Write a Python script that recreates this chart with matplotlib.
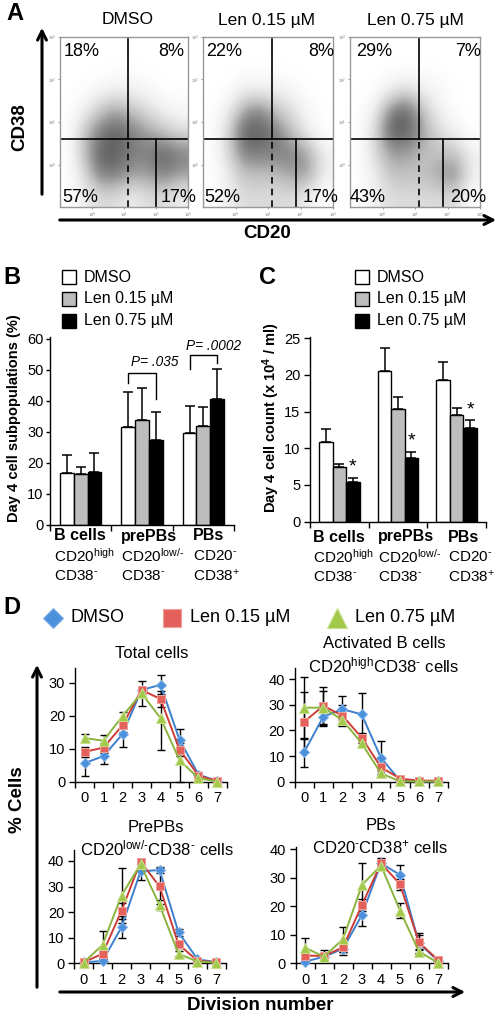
import matplotlib
matplotlib.use('Agg')
import matplotlib.pyplot as plt
import numpy as np
from matplotlib.patches import FancyArrowPatch, Rectangle
from matplotlib.lines import Line2D

plt.rcParams['font.family'] = ['Liberation Sans', 'DejaVu Sans']
plt.rcParams['mathtext.fontset'] = 'custom'
plt.rcParams['mathtext.rm'] = 'Liberation Sans'
plt.rcParams['mathtext.it'] = 'Liberation Sans:italic'
plt.rcParams['mathtext.bf'] = 'Liberation Sans:bold'
plt.rcParams['mathtext.default'] = 'regular'

HY = '\u2010'  # short hyphen for superscripts

# ---------------- data ----------------
conditions = ['DMSO', 'Len 0.15 µM', 'Len 0.75 µM']

# Panel A: quadrant percentages
quad_upper_left = [18, 22, 29]
quad_upper_right = [8, 8, 7]
quad_lower_left = [57, 52, 43]
quad_lower_right = [17, 17, 20]
# gates (log10 units)
gate_cd38 = 0.6
gate_cd20 = 1.12
gate_cd20_high = [2.0, 1.86, 1.86]
# approximate event density (rows: CD38 high->low, cols: CD20 low->high)
density_dmso = [
    [0, 0, 0, 0, 0, 0, 0, 0],
    [0, 0, 0, 0, 0, 0, 0, 0],
    [0, 0, 0.5, 1, 1, 0.5, 0, 0],
    [0, 1, 3, 4, 3, 2, 1, 0.5],
    [0, 3, 5, 6, 5, 4, 3, 2],
    [0, 3, 6, 6, 5, 5, 6, 5],
    [0, 2, 5, 5, 4, 4, 5, 4],
    [0, 1, 2, 2, 1, 2, 2, 1],
]
density_len015 = [
    [0, 0, 0, 0, 0, 0, 0, 0],
    [0, 0, 0, 0, 0, 0, 0, 0],
    [0, 0, 1, 1, 1, 0.5, 0, 0],
    [0, 1, 4, 5, 3, 2, 0.5, 0],
    [0, 2, 6, 6, 5, 3, 1, 0],
    [0, 2, 5, 5, 5, 5, 4, 1],
    [0, 1, 3, 3, 3, 4, 4, 1],
    [0, 1, 2, 2, 2, 2, 1, 0],
]
density_len075 = [
    [0, 0, 0, 0, 0, 0, 0, 0],
    [0, 0, 0, 0, 0, 0, 0, 0],
    [0, 0, 1, 2, 1, 0.5, 0, 0],
    [0, 1, 5, 6, 3, 1, 0, 0],
    [0, 2, 6, 6, 4, 2, 1, 0],
    [0, 2, 4, 4, 3, 3, 3, 1],
    [0, 1, 3, 3, 3, 4, 5, 1],
    [0, 1, 2, 2, 2, 2, 2, 0],
]

# Panels B and C
groups = ['B cells', 'prePBs', 'PBs']
group_markers1 = ['CD20$^{high}$', 'CD20$^{low/' + HY + '}$', 'CD20$^{' + HY + '}$']
group_markers2 = ['CD38$^{' + HY + '}$', 'CD38$^{' + HY + '}$', 'CD38$^{+}$']
subpop_dmso = [16.7, 31.4, 29.5]
subpop_dmso_err = [5.7, 11.3, 8.9]
subpop_len015 = [16.3, 33.7, 31.8]
subpop_len015_err = [2.5, 10.3, 6.2]
subpop_len075 = [17.1, 27.3, 40.5]
subpop_len075_err = [6.2, 9.2, 9.7]

count_dmso = [10.9, 20.5, 19.3]
count_dmso_err = [1.7, 3.2, 2.5]
count_len015 = [7.5, 15.3, 14.5]
count_len015_err = [0.3, 1.7, 1.0]
count_len075 = [5.4, 8.7, 12.8]
count_len075_err = [0.6, 0.8, 1.0]

# Panel D
divisions = [0, 1, 2, 3, 4, 5, 6, 7]
total_dmso = [5.6, 7.7, 14.4, 27.8, 29.4, 12.7, 2.1, 0.1]
total_dmso_err = [3.9, 2.4, 3.8, 0.8, 2.9, 3.2, 0.7, 0]
total_len015 = [9.0, 10.3, 17.1, 27.8, 25.1, 9.7, 1.8, 0.1]
total_len015_err = [1.5, 1.5, 2.0, 1.0, 2.5, 2.0, 0.5, 0]
total_len075 = [13.2, 12.4, 19.9, 26.8, 19.3, 6.5, 1.0, 0]
total_len075_err = [1.2, 1.6, 1.1, 3.8, 9.6, 6.5, 0.4, 0]

actb_dmso = [11.5, 25.4, 28.3, 26.3, 9.4, 0.4, 0.1, 0.1]
actb_dmso_err = [5.7, 3.5, 5.2, 8.3, 6.5, 0.5, 0, 0]
actb_len015 = [23.4, 29.6, 25.8, 17.2, 5.7, 1.2, 0.4, 0.4]
actb_len015_err = [11.8, 7.5, 4.0, 2.0, 1.5, 0.5, 0, 0]
actb_len075 = [28.9, 28.9, 24.1, 15.0, 3.3, 0.1, 0.1, 0.1]
actb_len075_err = [12.1, 6.5, 2.0, 1.5, 1.0, 0, 0, 0]

prepb_dmso = [0.4, 0.9, 14.1, 35.9, 36.5, 12.1, 1.6, 0.4]
prepb_dmso_err = [0, 0.5, 4.3, 3.3, 1.0, 1.5, 0.5, 0]
prepb_len015 = [0.4, 3.7, 20.5, 39.8, 30.1, 7.4, 1.0, 0.4]
prepb_len015_err = [0, 1.5, 3.0, 1.0, 7.0, 1.5, 0.3, 0]
prepb_len075 = [0.2, 7.2, 26.5, 38.7, 22.8, 3.7, 0.7, 0.2]
prepb_len075_err = [0, 5.4, 10.9, 2.0, 2.0, 1.0, 0.3, 0]

pbs_dmso = [0.6, 2.3, 5.1, 17.0, 35.1, 31.0, 7.0, 0.9]
pbs_dmso_err = [0.5, 1.0, 2.2, 3.9, 1.5, 3.5, 3.5, 0.3]
pbs_len015 = [2.7, 2.6, 5.6, 20.5, 35.1, 27.7, 7.3, 1.2]
pbs_len015_err = [1.0, 2.0, 1.5, 2.0, 2.0, 2.0, 2.6, 0.3]
pbs_len075 = [5.5, 2.3, 8.5, 27.5, 34.3, 18.5, 4.1, 0.2]
pbs_len075_err = [3.3, 1.0, 4.4, 7.8, 1.5, 2.5, 1.0, 0.1]

# ---------------- figure ----------------
W, H = 500, 1016
fig = plt.figure(figsize=(W / 100, H / 100), dpi=100)


def axpx(l, t, r, b):
    return fig.add_axes([l / W, 1 - b / H, (r - l) / W, (b - t) / H])


def txt(x, y, s, **kw):
    kw.setdefault('ha', 'center')
    kw.setdefault('va', 'center')
    return fig.text(x / W, 1 - y / H, s, **kw)


def arrow(x0, y0, x1, y1):
    fig.add_artist(FancyArrowPatch((x0 / W, 1 - y0 / H), (x1 / W, 1 - y1 / H),
                                   transform=fig.transFigure, arrowstyle='->',
                                   mutation_scale=16, lw=2.2, color='black'))


def sqpx(x, y, size, fc):
    fig.add_artist(Rectangle((x / W, 1 - (y + size / 2) / H), size / W, size / H,
                             transform=fig.transFigure, fc=fc, ec='black', lw=1))


# ---------- Panel A ----------
txt(15, 13, 'A', fontsize=17, fontweight='bold')
boxes = [(60, 37, 188, 207), (203, 37, 333, 207), (350, 37, 480, 207)]
densities = [density_dmso, density_len015, density_len075]
pct_pos = [  # (ul_x, ur_x, ll_x, lr_x)
    (64, 184, 62, 196), (206, 334, 204, 339), (356, 481, 350, 486)]
title_x = [128, 267, 415]
for i, (bx, dens) in enumerate(zip(boxes, densities)):
    ax = axpx(*bx)
    ax.imshow(np.array(dens), extent=(-1, 3, -1, 3), origin='upper', cmap='Greys',
              vmin=0, vmax=8.5, interpolation='bicubic', aspect='auto', zorder=0)
    ax.set_xlim(-1, 3)
    ax.set_ylim(-1, 3)
    ax.plot([-1, 3], [gate_cd38, gate_cd38], color='black', lw=1.2)
    ax.plot([gate_cd20, gate_cd20], [gate_cd38, 3], color='black', lw=1.2)
    ax.plot([gate_cd20, gate_cd20], [-1, gate_cd38], color='black', lw=1.2, ls=(0, (4, 3)))
    ax.plot([gate_cd20_high[i]] * 2, [-1, gate_cd38], color='black', lw=1.2)
    for s in ax.spines.values():
        s.set_color('#999999')
        s.set_linewidth(1)
    ax.set_xticks([0, 1, 2, 3])
    ax.set_yticks([0, 1, 2, 3])
    ax.set_xticklabels(['$10^0$', '$10^1$', '$10^2$', '$10^3$'], fontsize=3, color='#555555')
    ax.set_yticklabels(['$10^0$', '$10^1$', '$10^2$', '$10^3$'], fontsize=3, color='#555555')
    ax.tick_params(length=1.5, width=0.5, pad=1, colors='#777777')
    ulx, urx, llx, lrx = pct_pos[i]
    txt(ulx, 52, f'{quad_upper_left[i]}%', ha='left', fontsize=13)
    txt(urx, 52, f'{quad_upper_right[i]}%', ha='right', fontsize=13)
    txt(llx, 197, f'{quad_lower_left[i]}%', ha='left', fontsize=13)
    txt(lrx, 197, f'{quad_lower_right[i]}%', ha='right', fontsize=13)
    txt(title_x[i], 20, conditions[i], fontsize=12.5)

arrow(42, 197, 42, 25)
arrow(57, 220, 499, 220)
txt(267, 234, 'CD20', fontsize=13.5, fontweight='bold')
txt(20, 127, 'CD38', fontsize=13.5, fontweight='bold', rotation=90)

# ---------- Panels B and C ----------
bar_colors = ['white', '#bdbdbd', 'black']


def bar_panel(ax, vals, errs, ymax, yticks, width):
    x = np.arange(3)
    for i, (v, e, c) in enumerate(zip(vals, errs, bar_colors)):
        xi = x + (i - 1) * width
        ax.errorbar(xi, v, yerr=[np.zeros(3), e], fmt='none', ecolor='black',
                    elinewidth=1.1, capsize=3.6, capthick=1.1, zorder=1)
        ax.bar(xi, v, width, color=c, edgecolor='black', lw=1, zorder=2)
    ax.set_xlim(-0.5, 2.5)
    ax.set_ylim(0, ymax)
    ax.set_yticks(yticks)
    ax.set_xticks([])
    ax.set_xticks([-0.5, 0.5, 1.5, 2.5], minor=True)
    ax.tick_params(axis='x', which='minor', length=4, width=1, direction='out')
    ax.tick_params(axis='y', length=3, width=1, labelsize=10.5)
    for s in ['top', 'right']:
        ax.spines[s].set_visible(False)
    for s in ['left', 'bottom']:
        ax.spines[s].set_linewidth(1)


# Panel B
txt(12, 277, 'B', fontsize=17, fontweight='bold')
for j, (c, lab) in enumerate(zip(bar_colors, conditions)):
    sqpx(62, 277 + 22 * j, 14, c)
    txt(84, 277 + 22 * j, lab, ha='left', fontsize=11.5)
axB = axpx(50, 337, 234, 525)
bar_panel(axB, [subpop_dmso, subpop_len015, subpop_len075],
          [subpop_dmso_err, subpop_len015_err, subpop_len075_err], 60.5,
          [0, 10, 20, 30, 40, 50, 60], 0.225)
axB.tick_params(axis='y', pad=1.5)
axB.plot([0.775, 0.775, 1.225, 1.225], [45.7, 48.9, 48.9, 40.6], color='black', lw=1, clip_on=False)
axB.text(1.2, 52.4, 'P= .035', ha='center', va='center', fontsize=9.8, style='italic')
axB.plot([1.775, 1.775, 2.225, 2.225], [50.2, 54.6, 54.6, 52.1], color='black', lw=1, clip_on=False)
axB.text(2.16, 57.6, 'P= .0002', ha='center', va='center', fontsize=9.8, style='italic', clip_on=False)
txt(14, 418, 'Day 4 cell subpopulations (%)', rotation=90, fontsize=10.5, fontweight='bold')
for xl, g, m1, m2 in zip([54, 121, 193], groups, group_markers1, group_markers2):
    txt(xl, 536, g, ha='left', fontsize=11.5, fontweight='bold')
    txt(xl, 556, m1, ha='left', fontsize=11)
    txt(xl, 576, m2, ha='left', fontsize=11)

# Panel C
txt(268, 277, 'C', fontsize=17, fontweight='bold')
for j, (c, lab) in enumerate(zip(bar_colors, conditions)):
    sqpx(355, 277 + 22 * j, 14, c)
    txt(377, 277 + 22 * j, lab, ha='left', fontsize=11.5)
axC = axpx(310, 336.7, 486, 521.7)
bar_panel(axC, [count_dmso, count_len015, count_len075],
          [count_dmso_err, count_len015_err, count_len075_err], 25.2,
          [0, 5, 10, 15, 20, 25], 0.23)
axC.tick_params(axis='y', length=4, pad=3)
for k in range(3):
    top = count_len075[k] + count_len075_err[k]
    axC.text(k + 0.23, top + 0.3, '*', ha='center', va='bottom', fontsize=14)
txt(271, 418, 'Day 4 cell count (x 10$^{4}$ / ml)', rotation=90, fontsize=10.5, fontweight='bold')
for xl, g, m1, m2 in zip([313, 378, 448], groups, group_markers1, group_markers2):
    txt(xl, 537, g, ha='left', fontsize=11.5, fontweight='bold')
    txt(xl, 557, m1, ha='left', fontsize=11)
    txt(xl, 577, m2, ha='left', fontsize=11)

# ---------- Panel D ----------
txt(12, 608, 'D', fontsize=17, fontweight='bold')
series_style = [
    dict(marker='D', color='#3d7fcc', mfc='#4a90dc', mec='#7fb0e6', ms=5.5),
    dict(marker='s', color='#cc3d38', mfc='#e4605a', mec='#f0a09a', ms=6.2),
    dict(marker='^', color='#8ab43e', mfc='#a2c94c', mec='#c8e090', ms=7),
]
leg_x = [53, 172, 337]
leg_text_x = [70, 190, 355]
leg_ms = [10.5, 13.5, 14]
for st, lx, tx, lab, ms in zip(series_style, leg_x, leg_text_x, conditions, leg_ms):
    fig.add_artist(Line2D([lx / W], [1 - 618 / H], marker=st['marker'], ms=ms, mfc=st['mfc'],
                          mec=st['mec'], mew=0.8, transform=fig.transFigure, ls='none'))
    txt(tx, 618, lab, ha='left', fontsize=13)


def line_panel(ax, vals, errs, ymax, yticks):
    x = np.array(divisions)
    for v, e in zip(vals, errs):
        ax.errorbar(x, v, yerr=e, fmt='none', ecolor='black', elinewidth=1,
                    capsize=3, capthick=1, zorder=2, clip_on=False)
    for v, st in zip(vals, series_style):
        ax.plot(x, v, color=st['color'], lw=1.4, marker=st['marker'], ms=st['ms'],
                mfc=st['mfc'], mec=st['mec'], mew=0.7, zorder=3, clip_on=False)
    ax.set_xlim(-0.5, 7.5)
    ax.set_ylim(0, ymax)
    ax.set_yticks(yticks)
    ax.set_xticks(x)
    ax.set_xticks(np.arange(-0.5, 8, 1), minor=True)
    ax.tick_params(axis='x', which='major', length=0, pad=7, labelsize=10.5)
    ax.tick_params(axis='x', which='minor', length=4, width=1, direction='out')
    ax.tick_params(axis='y', length=4, width=1, pad=3, labelsize=10.5)
    for s in ['top', 'right']:
        ax.spines[s].set_visible(False)
    for s in ['left', 'bottom']:
        ax.spines[s].set_linewidth(1)


axD1 = axpx(75, 668, 227, 781.5)
line_panel(axD1, [total_dmso, total_len015, total_len075],
           [total_dmso_err, total_len015_err, total_len075_err], 34.5, [0, 10, 20, 30])
txt(152, 653, 'Total cells', fontsize=12)

axD2 = axpx(294.5, 668, 448, 781.7)
line_panel(axD2, [actb_dmso, actb_len015, actb_len075],
           [actb_dmso_err, actb_len015_err, actb_len075_err], 44.4, [0, 10, 20, 30, 40])
txt(384, 643, 'Activated B cells', fontsize=12)
txt(384, 665, 'CD20$^{high}$CD38$^{' + HY + '}$ cells', fontsize=12)

axD3 = axpx(74, 850, 226, 963.3)
line_panel(axD3, [prepb_dmso, prepb_len015, prepb_len075],
           [prepb_dmso_err, prepb_len015_err, prepb_len075_err], 44.3, [0, 10, 20, 30, 40])
txt(156, 827, 'PrePBs', fontsize=12)
txt(157, 848, 'CD20$^{low/' + HY + '}$CD38$^{' + HY + '}$ cells', fontsize=12)

axD4 = axpx(295.5, 846.7, 447.5, 963.3)
line_panel(axD4, [pbs_dmso, pbs_len015, pbs_len075],
           [pbs_dmso_err, pbs_len015_err, pbs_len075_err], 40.9, [0, 10, 20, 30, 40])
txt(381, 825, 'PBs', fontsize=12)
txt(380, 847, 'CD20$^{' + HY + '}$CD38$^{+}$ cells', fontsize=12)

arrow(37, 990, 37, 662)
arrow(57, 992, 468, 992)
txt(17, 800, '% Cells', rotation=90, fontsize=13.5, fontweight='bold')
txt(260, 1006, 'Division number', fontsize=13.5, fontweight='bold')

fig.savefig('out.png', dpi=100)
